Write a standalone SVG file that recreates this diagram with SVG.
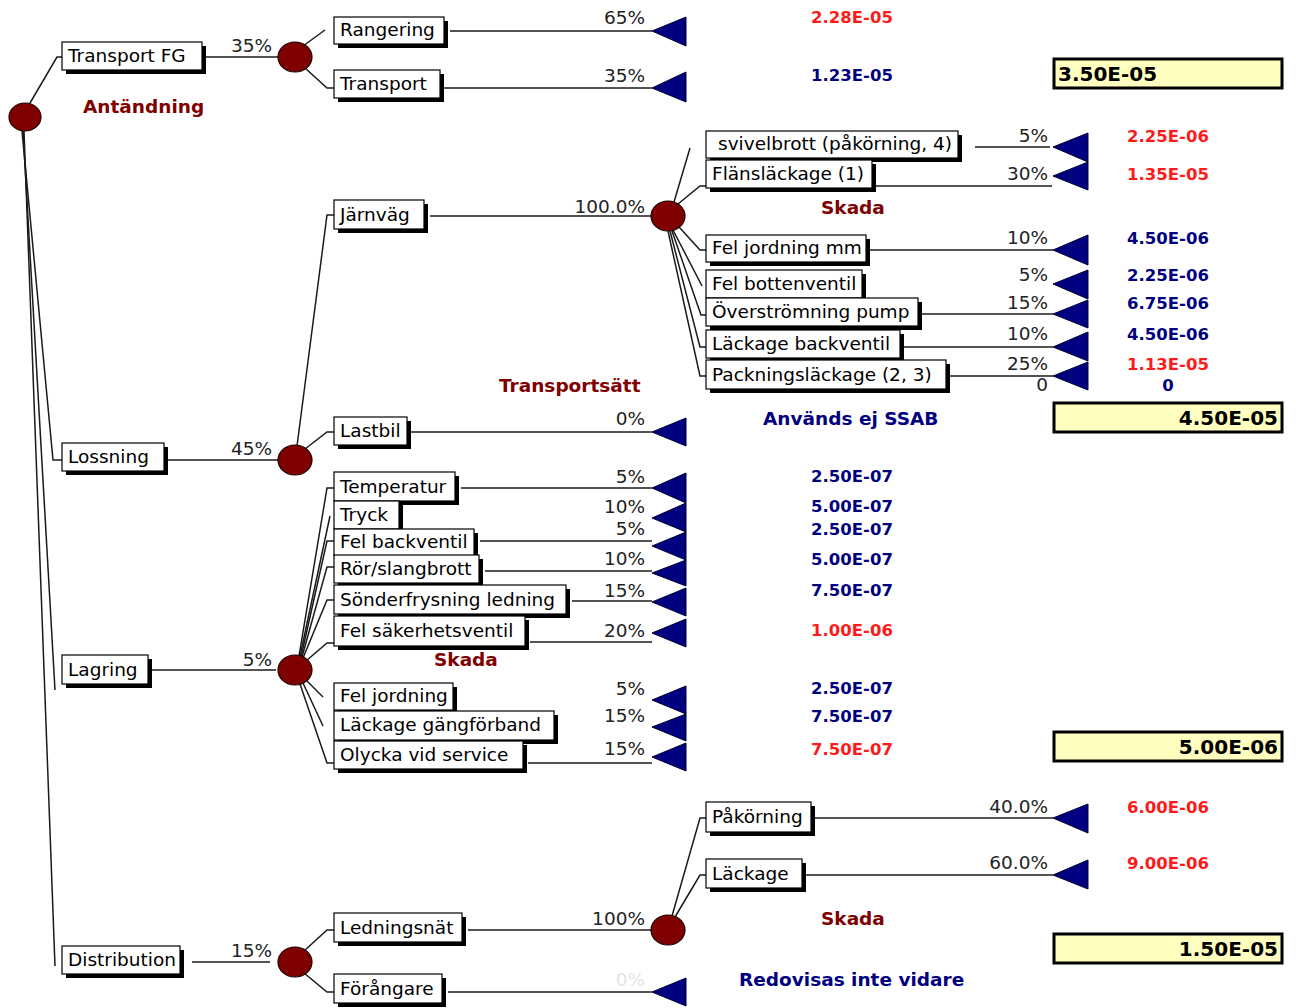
<svg xmlns="http://www.w3.org/2000/svg" width="1296" height="1008" viewBox="0 0 1296 1008">
<defs>
<style>
.bg{fill:#ffffff}
.ln{fill:none;stroke:#1a1a1a;stroke-width:1.5}
.box{fill:#ffffff;stroke:#000;stroke-width:1.2}
.sh{fill:#000}
.lbl{font-family:"DejaVu Sans",sans-serif;font-size:18.5px;fill:#000}
.pct{font-family:"DejaVu Sans",sans-serif;font-size:18.5px;fill:#222;text-anchor:end}
.pctg{font-family:"DejaVu Sans",sans-serif;font-size:18.5px;fill:#e4e4e4;text-anchor:end}
.chance{fill:#800000;stroke:#1a0000;stroke-width:1.2}
.term{fill:#000080;stroke:#000030;stroke-width:1}
.vr{font-family:"DejaVu Sans",sans-serif;font-weight:bold;font-size:16.5px;fill:#ff1a1a;text-anchor:middle}
.vb{font-family:"DejaVu Sans",sans-serif;font-weight:bold;font-size:16.5px;fill:#000080;text-anchor:middle}
.cat{font-family:"DejaVu Sans",sans-serif;font-weight:bold;font-size:18.5px;fill:#800000}
.note{font-family:"DejaVu Sans",sans-serif;font-weight:bold;font-size:18.5px;fill:#000080}
.sum{fill:#ffffc0;stroke:#000;stroke-width:3}
.sumt{font-family:"DejaVu Sans",sans-serif;font-weight:bold;font-size:20px;fill:#000}
</style>
</defs>
<rect class="bg" x="0" y="0" width="1296" height="1008"/>

<!-- connectors -->
<g id="connectors">
  <!-- root fan -->
  <polyline class="ln" points="30,103 57,57 62,57"/>
  <polyline class="ln" points="22,131 53,460 62,460"/>
  <polyline class="ln" points="23,131 55,690"/>
  <polyline class="ln" points="24,131 55,966"/>
  <!-- first level to chance nodes -->
  <line class="ln" x1="206" y1="57" x2="280" y2="57"/>
  <line class="ln" x1="168" y1="460" x2="280" y2="460"/>
  <line class="ln" x1="152" y1="670" x2="276" y2="670"/>
  <line class="ln" x1="192" y1="962" x2="270" y2="962"/>
  <!-- Transport FG branches -->
  <polyline class="ln" points="303,46 325,30"/>
  <polyline class="ln" points="305,68 327,88 334,88"/>
  <line class="ln" x1="450" y1="31" x2="652" y2="31"/>
  <line class="ln" x1="444" y1="88" x2="652" y2="88"/>
  <!-- Lossning branches -->
  <polyline class="ln" points="297,446 327,215 334,215"/>
  <polyline class="ln" points="305,449 327,432 334,432"/>
  <line class="ln" x1="430" y1="216" x2="652" y2="216"/>
  <line class="ln" x1="411" y1="432" x2="652" y2="432"/>
  <!-- Järnväg branches -->
  <polyline class="ln" points="674,202 690,148"/>
  <polyline class="ln" points="678,204 700,186 706,186"/>
  <polyline class="ln" points="679,227 700,250 706,250"/>
  <polyline class="ln" points="673,230 702,286"/>
  <polyline class="ln" points="672,231 701,315 706,315"/>
  <polyline class="ln" points="670,231 700,347 706,347"/>
  <polyline class="ln" points="668,231 700,376 706,376"/>
  <line class="ln" x1="975" y1="147" x2="1050" y2="147"/>
  <line class="ln" x1="876" y1="186" x2="1052" y2="186"/>
  <line class="ln" x1="870" y1="250" x2="1053" y2="250"/>
  <line class="ln" x1="922" y1="314" x2="1053" y2="314"/>
  <line class="ln" x1="904" y1="347" x2="1053" y2="347"/>
  <line class="ln" x1="950" y1="376" x2="1053" y2="376"/>
  <!-- Lagring branches -->
  <polyline class="ln" points="299,656 327,488 334,488"/>
  <polyline class="ln" points="300,656 330,516"/>
  <polyline class="ln" points="301,657 327,541 334,541"/>
  <polyline class="ln" points="302,657 327,567 334,567"/>
  <polyline class="ln" points="303,658 327,600 334,600"/>
  <polyline class="ln" points="306,661 327,643 334,643"/>
  <polyline class="ln" points="306,680 323,697"/>
  <polyline class="ln" points="303,683 323,726"/>
  <polyline class="ln" points="300,684 327,763 334,763"/>
  <line class="ln" x1="461" y1="488" x2="652" y2="488"/>
  <line class="ln" x1="480" y1="541" x2="652" y2="541"/>
  <line class="ln" x1="485" y1="571" x2="652" y2="571"/>
  <line class="ln" x1="572" y1="601" x2="652" y2="601"/>
  <line class="ln" x1="530" y1="642" x2="652" y2="642"/>
  <line class="ln" x1="528" y1="763" x2="652" y2="763"/>
  <!-- Distribution branches -->
  <polyline class="ln" points="304,951 327,930 334,930"/>
  <polyline class="ln" points="304,973 327,992 334,992"/>
  <line class="ln" x1="468" y1="930" x2="652" y2="930"/>
  <line class="ln" x1="448" y1="992" x2="652" y2="992"/>
  <!-- Ledningsnät branches -->
  <polyline class="ln" points="672,916 700,818 706,818"/>
  <polyline class="ln" points="675,917 700,875 706,875"/>
  <line class="ln" x1="815" y1="818" x2="1053" y2="818"/>
  <line class="ln" x1="806" y1="875" x2="1053" y2="875"/>
</g>

<!-- chance nodes -->
<g id="root"><ellipse class="chance" cx="25" cy="117" rx="16" ry="14"/></g>
<g id="n-transportfg"><ellipse class="chance" cx="295" cy="57" rx="17" ry="15"/></g>
<g id="n-lossning"><ellipse class="chance" cx="295" cy="460" rx="17" ry="15"/></g>
<g id="n-lagring"><ellipse class="chance" cx="295" cy="670" rx="17" ry="15"/></g>
<g id="n-distribution"><ellipse class="chance" cx="295" cy="962" rx="17" ry="15"/></g>
<g id="n-jarnvag"><ellipse class="chance" cx="668" cy="216" rx="17" ry="15"/></g>
<g id="n-ledningsnat"><ellipse class="chance" cx="668" cy="930" rx="17" ry="15"/></g>

<!-- first-level labels -->
<g id="transportfg"><rect class="sh" x="66" y="46" width="140" height="28"/><rect class="box" x="62" y="42" width="140" height="28"/><text class="lbl" x="68" y="62">Transport FG</text></g>
<g id="lossning"><rect class="sh" x="66" y="447" width="102" height="28"/><rect class="box" x="62" y="443" width="102" height="28"/><text class="lbl" x="68" y="463">Lossning</text></g>
<g id="lagring"><rect class="sh" x="66" y="659" width="86" height="29"/><rect class="box" x="62" y="655" width="86" height="29"/><text class="lbl" x="68" y="676">Lagring</text></g>
<g id="distribution"><rect class="sh" x="66" y="950" width="118" height="28"/><rect class="box" x="62" y="946" width="118" height="28"/><text class="lbl" x="68" y="966">Distribution</text></g>

<!-- second-level labels -->
<g id="rangering"><rect class="sh" x="338" y="21" width="110" height="27"/><rect class="box" x="334" y="17" width="110" height="27"/><text class="lbl" x="340" y="36">Rangering</text></g>
<g id="transport"><rect class="sh" x="338" y="74" width="106" height="28"/><rect class="box" x="334" y="70" width="106" height="28"/><text class="lbl" x="340" y="90">Transport</text></g>
<g id="jarnvag"><rect class="sh" x="338" y="204" width="90" height="29"/><rect class="box" x="334" y="200" width="90" height="29"/><text class="lbl" x="340" y="221">Järnväg</text></g>
<g id="lastbil"><rect class="sh" x="338" y="421" width="73" height="28"/><rect class="box" x="334" y="417" width="73" height="28"/><text class="lbl" x="340" y="437">Lastbil</text></g>
<g id="temperatur"><rect class="sh" x="338" y="476" width="121" height="29"/><rect class="box" x="334" y="472" width="121" height="29"/><text class="lbl" x="340" y="493">Temperatur</text></g>
<g id="tryck"><rect class="sh" x="338" y="505" width="65" height="28"/><rect class="box" x="334" y="501" width="65" height="28"/><text class="lbl" x="340" y="521">Tryck</text></g>
<g id="felbackventil"><rect class="sh" x="338" y="533" width="140" height="27"/><rect class="box" x="334" y="529" width="140" height="27"/><text class="lbl" x="340" y="548">Fel backventil</text></g>
<g id="rorslangbrott"><rect class="sh" x="338" y="559" width="145" height="28"/><rect class="box" x="334" y="555" width="145" height="28"/><text class="lbl" x="340" y="575">Rör/slangbrott</text></g>
<g id="sonderfrysning"><rect class="sh" x="338" y="589" width="232" height="29"/><rect class="box" x="334" y="585" width="232" height="29"/><text class="lbl" x="340" y="606">Sönderfrysning ledning</text></g>
<g id="felsakerhetsventil"><rect class="sh" x="338" y="620" width="191" height="30"/><rect class="box" x="334" y="616" width="191" height="30"/><text class="lbl" x="340" y="637">Fel säkerhetsventil</text></g>
<g id="feljordning"><rect class="sh" x="338" y="687" width="119" height="27"/><rect class="box" x="334" y="683" width="119" height="27"/><text class="lbl" x="340" y="702">Fel jordning</text></g>
<g id="lackagegang"><rect class="sh" x="338" y="715" width="220" height="29"/><rect class="box" x="334" y="711" width="220" height="29"/><text class="lbl" x="340" y="731">Läckage gängförband</text></g>
<g id="olycka"><rect class="sh" x="338" y="745" width="189" height="28"/><rect class="box" x="334" y="741" width="189" height="28"/><text class="lbl" x="340" y="761">Olycka vid service</text></g>
<g id="ledningsnat"><rect class="sh" x="338" y="917" width="128" height="29"/><rect class="box" x="334" y="913" width="128" height="29"/><text class="lbl" x="340" y="934">Ledningsnät</text></g>
<g id="forangare"><rect class="sh" x="338" y="978" width="108" height="29"/><rect class="box" x="334" y="974" width="108" height="29"/><text class="lbl" x="340" y="995">Förångare</text></g>

<!-- third-level labels -->
<g id="svivelbrott"><rect class="sh" x="710" y="135" width="252" height="27"/><rect class="box" x="706" y="131" width="252" height="27"/><text class="lbl" x="718" y="150">svivelbrott (påkörning, 4)</text></g>
<g id="flanslackage"><rect class="sh" x="710" y="164" width="166" height="28"/><rect class="box" x="706" y="160" width="166" height="28"/><text class="lbl" x="712" y="180">Flänsläckage (1)</text></g>
<g id="feljordningmm"><rect class="sh" x="710" y="239" width="160" height="27"/><rect class="box" x="706" y="235" width="160" height="27"/><text class="lbl" x="712" y="254">Fel jordning mm</text></g>
<g id="felbottenventil"><rect class="sh" x="710" y="274" width="156" height="28"/><rect class="box" x="706" y="270" width="156" height="28"/><text class="lbl" x="712" y="290">Fel bottenventil</text></g>
<g id="overstromning"><rect class="sh" x="710" y="302" width="212" height="28"/><rect class="box" x="706" y="298" width="212" height="28"/><text class="lbl" x="712" y="318">Överströmning pump</text></g>
<g id="lackagebackventil"><rect class="sh" x="710" y="334" width="194" height="28"/><rect class="box" x="706" y="330" width="194" height="28"/><text class="lbl" x="712" y="350">Läckage backventil</text></g>
<g id="packningslackage"><rect class="sh" x="710" y="364" width="240" height="29"/><rect class="box" x="706" y="360" width="240" height="29"/><text class="lbl" x="712" y="381">Packningsläckage (2, 3)</text></g>
<g id="pakorning"><rect class="sh" x="710" y="806" width="105" height="30"/><rect class="box" x="706" y="802" width="105" height="30"/><text class="lbl" x="712" y="823">Påkörning</text></g>
<g id="lackage"><rect class="sh" x="710" y="863" width="96" height="29"/><rect class="box" x="706" y="859" width="96" height="29"/><text class="lbl" x="712" y="880">Läckage</text></g>

<!-- terminal nodes -->
<g id="terminals">
  <polygon class="term" points="652,31 686,17 686,46"/>
  <polygon class="term" points="652,88 686,72 686,102"/>
  <polygon class="term" points="652,432 686,418 686,446"/>
  <polygon class="term" points="652,488 686,473 686,503"/>
  <polygon class="term" points="652,518 686,503 686,532"/>
  <polygon class="term" points="652,546 686,532 686,560"/>
  <polygon class="term" points="652,573 686,560 686,586"/>
  <polygon class="term" points="652,602 686,588 686,616"/>
  <polygon class="term" points="652,633 686,619 686,647"/>
  <polygon class="term" points="652,700 686,686 686,714"/>
  <polygon class="term" points="652,727 686,714 686,741"/>
  <polygon class="term" points="652,757 686,743 686,771"/>
  <polygon class="term" points="652,992 686,978 686,1006"/>
  <polygon class="term" points="1053,147 1088,133 1088,162"/>
  <polygon class="term" points="1053,176 1088,162 1088,190"/>
  <polygon class="term" points="1053,250 1088,235 1088,265"/>
  <polygon class="term" points="1053,284 1088,270 1088,299"/>
  <polygon class="term" points="1053,314 1088,300 1088,328"/>
  <polygon class="term" points="1053,347 1088,332 1088,361"/>
  <polygon class="term" points="1053,376 1088,362 1088,390"/>
  <polygon class="term" points="1053,818 1088,804 1088,833"/>
  <polygon class="term" points="1053,875 1088,860 1088,889"/>
</g>

<!-- probabilities -->
<g id="probabilities">
  <text class="pct" x="272" y="52">35%</text>
  <text class="pct" x="272" y="455">45%</text>
  <text class="pct" x="272" y="666">5%</text>
  <text class="pct" x="272" y="957">15%</text>
  <text class="pct" x="645" y="24">65%</text>
  <text class="pct" x="645" y="82">35%</text>
  <text class="pct" x="645" y="213">100.0%</text>
  <text class="pct" x="645" y="425">0%</text>
  <text class="pct" x="645" y="483">5%</text>
  <text class="pct" x="645" y="513">10%</text>
  <text class="pct" x="645" y="535">5%</text>
  <text class="pct" x="645" y="565">10%</text>
  <text class="pct" x="645" y="597">15%</text>
  <text class="pct" x="645" y="637">20%</text>
  <text class="pct" x="645" y="695">5%</text>
  <text class="pct" x="645" y="722">15%</text>
  <text class="pct" x="645" y="755">15%</text>
  <text class="pct" x="645" y="925">100%</text>
  <text class="pctg" x="645" y="986">0%</text>
  <text class="pct" x="1048" y="142">5%</text>
  <text class="pct" x="1048" y="180">30%</text>
  <text class="pct" x="1048" y="244">10%</text>
  <text class="pct" x="1048" y="281">5%</text>
  <text class="pct" x="1048" y="309">15%</text>
  <text class="pct" x="1048" y="340">10%</text>
  <text class="pct" x="1048" y="370">25%</text>
  <text class="pct" x="1048" y="391">0</text>
  <text class="pct" x="1048" y="813">40.0%</text>
  <text class="pct" x="1048" y="869">60.0%</text>
</g>

<!-- outcome values -->
<g id="values">
  <text class="vr" x="852" y="23">2.28E-05</text>
  <text class="vb" x="852" y="81">1.23E-05</text>
  <text class="vb" x="852" y="482">2.50E-07</text>
  <text class="vb" x="852" y="512">5.00E-07</text>
  <text class="vb" x="852" y="535">2.50E-07</text>
  <text class="vb" x="852" y="565">5.00E-07</text>
  <text class="vb" x="852" y="596">7.50E-07</text>
  <text class="vr" x="852" y="636">1.00E-06</text>
  <text class="vb" x="852" y="694">2.50E-07</text>
  <text class="vb" x="852" y="722">7.50E-07</text>
  <text class="vr" x="852" y="755">7.50E-07</text>
  <text class="vr" x="1168" y="142">2.25E-06</text>
  <text class="vr" x="1168" y="180">1.35E-05</text>
  <text class="vb" x="1168" y="244">4.50E-06</text>
  <text class="vb" x="1168" y="281">2.25E-06</text>
  <text class="vb" x="1168" y="309">6.75E-06</text>
  <text class="vb" x="1168" y="340">4.50E-06</text>
  <text class="vr" x="1168" y="370">1.13E-05</text>
  <text class="vb" x="1168" y="391">0</text>
  <text class="vr" x="1168" y="813">6.00E-06</text>
  <text class="vr" x="1168" y="869">9.00E-06</text>
</g>

<!-- category notes -->
<g id="notes">
  <text class="cat" x="83" y="113">Antändning</text>
  <text class="cat" x="499" y="392">Transportsätt</text>
  <text class="cat" x="821" y="214">Skada</text>
  <text class="cat" x="434" y="666">Skada</text>
  <text class="cat" x="821" y="925">Skada</text>
  <text class="note" x="763" y="425">Används ej SSAB</text>
  <text class="note" x="739" y="986">Redovisas inte vidare</text>
</g>

<!-- totals -->
<g id="total-transportfg"><rect class="sum" x="1054" y="59" width="228" height="29"/><text class="sumt" x="1058" y="81">3.50E-05</text></g>
<g id="total-lossning"><rect class="sum" x="1054" y="403" width="228" height="29"/><text class="sumt" x="1278" y="425" text-anchor="end">4.50E-05</text></g>
<g id="total-lagring"><rect class="sum" x="1054" y="732" width="228" height="29"/><text class="sumt" x="1278" y="754" text-anchor="end">5.00E-06</text></g>
<g id="total-distribution"><rect class="sum" x="1054" y="934" width="228" height="29"/><text class="sumt" x="1278" y="956" text-anchor="end">1.50E-05</text></g>
</svg>
